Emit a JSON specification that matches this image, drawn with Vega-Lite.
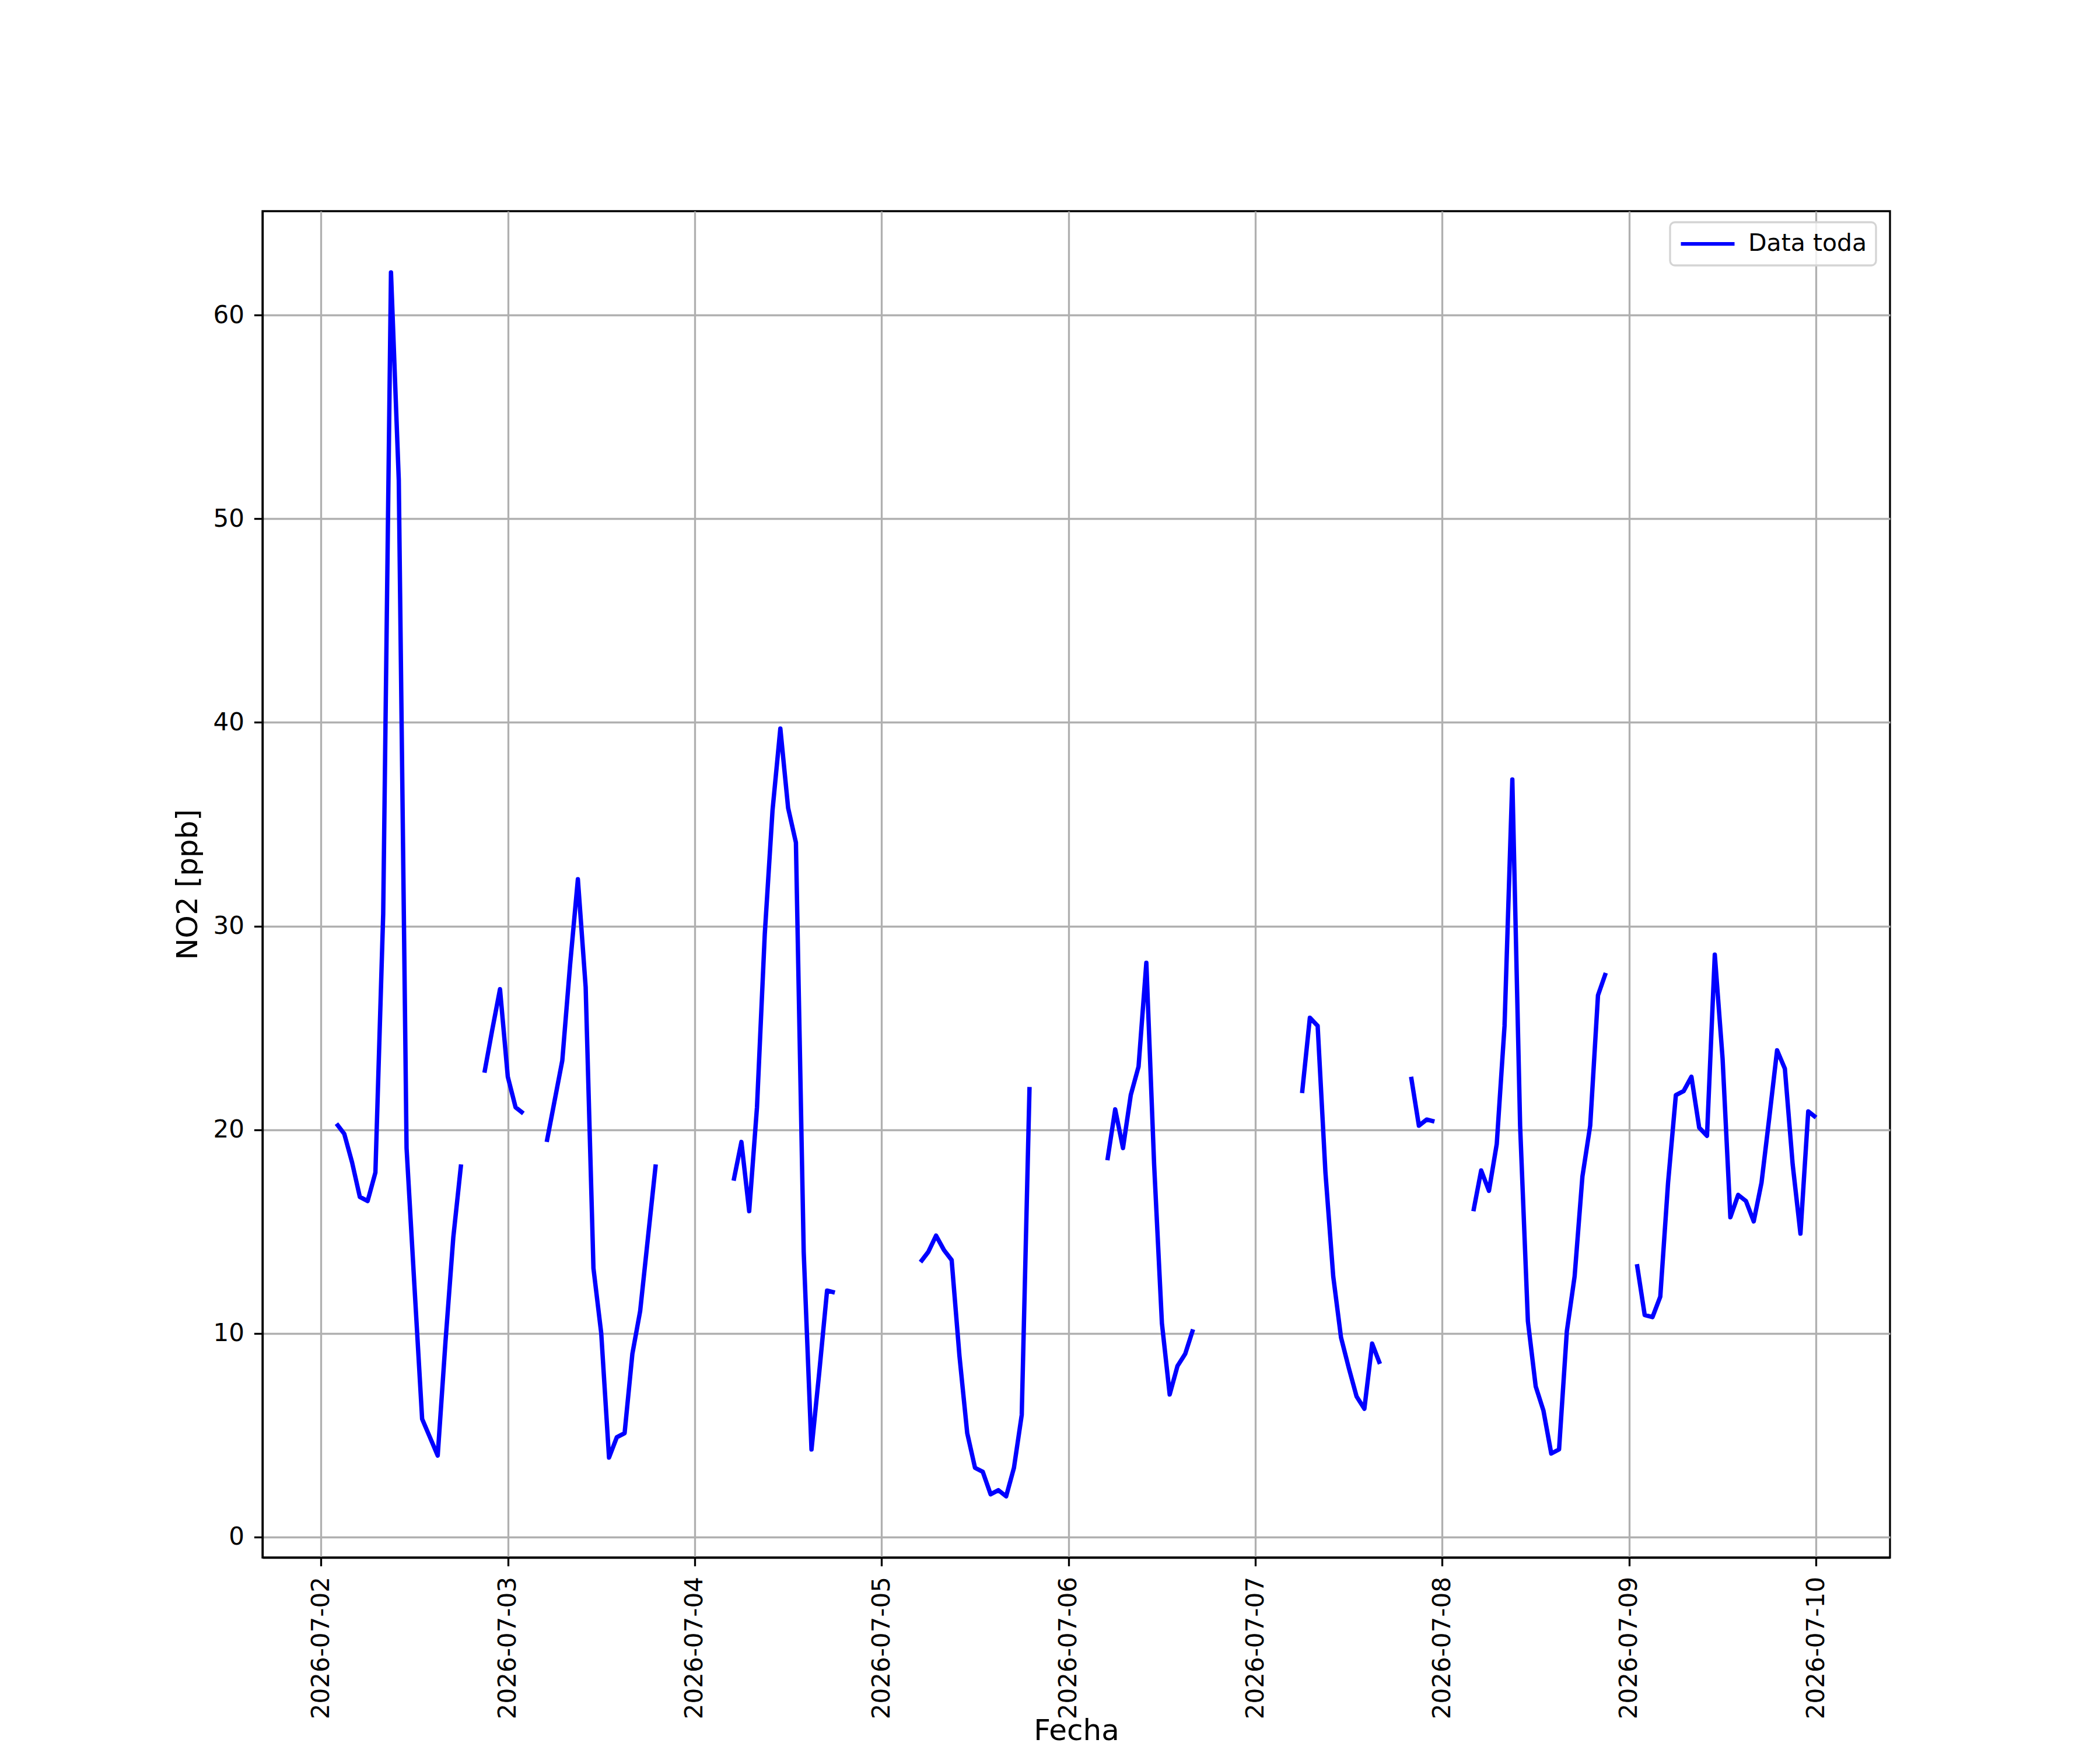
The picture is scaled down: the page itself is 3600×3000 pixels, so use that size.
{
  "$schema": "https://vega.github.io/schema/vega-lite/v6.json",
  "width": 2790,
  "height": 2308,
  "autosize": {"type": "none"},
  "padding": {"left": 450, "top": 362, "right": 360, "bottom": 330},
  "background": "white",
  "view": {"stroke": "black", "strokeWidth": 3.3},
  "config": {
    "font": "DejaVu Sans",
    "axis": {
      "labelFont": "DejaVu Sans",
      "titleFont": "DejaVu Sans",
      "labelColor": "black",
      "titleColor": "black",
      "titleFontWeight": "normal",
      "domainColor": "black",
      "domainWidth": 3.3,
      "tickColor": "black",
      "tickWidth": 3.3,
      "tickSize": 14.6,
      "gridColor": "#b0b0b0",
      "gridWidth": 3.3,
      "labelLimit": 0
    }
  },
  "data": {
    "values": [
      {"t": "2026-07-02T02:00:00", "no2": 20.3},
      {"t": "2026-07-02T03:00:00", "no2": 19.8},
      {"t": "2026-07-02T04:00:00", "no2": 18.4},
      {"t": "2026-07-02T05:00:00", "no2": 16.7},
      {"t": "2026-07-02T06:00:00", "no2": 16.5},
      {"t": "2026-07-02T07:00:00", "no2": 17.9},
      {"t": "2026-07-02T08:00:00", "no2": 30.6},
      {"t": "2026-07-02T09:00:00", "no2": 62.1},
      {"t": "2026-07-02T10:00:00", "no2": 51.9},
      {"t": "2026-07-02T11:00:00", "no2": 19.1},
      {"t": "2026-07-02T12:00:00", "no2": 12.4},
      {"t": "2026-07-02T13:00:00", "no2": 5.8},
      {"t": "2026-07-02T14:00:00", "no2": 4.9},
      {"t": "2026-07-02T15:00:00", "no2": 4.0},
      {"t": "2026-07-02T16:00:00", "no2": 9.6},
      {"t": "2026-07-02T17:00:00", "no2": 14.7},
      {"t": "2026-07-02T18:00:00", "no2": 18.3},
      {"t": "2026-07-02T19:00:00", "no2": null},
      {"t": "2026-07-02T21:00:00", "no2": 22.8},
      {"t": "2026-07-02T22:00:00", "no2": 24.9},
      {"t": "2026-07-02T23:00:00", "no2": 26.9},
      {"t": "2026-07-03T00:00:00", "no2": 22.6},
      {"t": "2026-07-03T01:00:00", "no2": 21.1},
      {"t": "2026-07-03T02:00:00", "no2": 20.8},
      {"t": "2026-07-03T03:00:00", "no2": null},
      {"t": "2026-07-03T05:00:00", "no2": 19.4},
      {"t": "2026-07-03T06:00:00", "no2": 21.4},
      {"t": "2026-07-03T07:00:00", "no2": 23.4},
      {"t": "2026-07-03T08:00:00", "no2": 28.1},
      {"t": "2026-07-03T09:00:00", "no2": 32.3},
      {"t": "2026-07-03T10:00:00", "no2": 27.0},
      {"t": "2026-07-03T11:00:00", "no2": 13.2},
      {"t": "2026-07-03T12:00:00", "no2": 10.0},
      {"t": "2026-07-03T13:00:00", "no2": 3.9},
      {"t": "2026-07-03T14:00:00", "no2": 4.9},
      {"t": "2026-07-03T15:00:00", "no2": 5.1},
      {"t": "2026-07-03T16:00:00", "no2": 9.0},
      {"t": "2026-07-03T17:00:00", "no2": 11.1},
      {"t": "2026-07-03T18:00:00", "no2": 14.7},
      {"t": "2026-07-03T19:00:00", "no2": 18.3},
      {"t": "2026-07-03T20:00:00", "no2": null},
      {"t": "2026-07-04T05:00:00", "no2": 17.5},
      {"t": "2026-07-04T06:00:00", "no2": 19.4},
      {"t": "2026-07-04T07:00:00", "no2": 16.0},
      {"t": "2026-07-04T08:00:00", "no2": 21.1},
      {"t": "2026-07-04T09:00:00", "no2": 29.6},
      {"t": "2026-07-04T10:00:00", "no2": 35.7},
      {"t": "2026-07-04T11:00:00", "no2": 39.7},
      {"t": "2026-07-04T12:00:00", "no2": 35.8},
      {"t": "2026-07-04T13:00:00", "no2": 34.1},
      {"t": "2026-07-04T14:00:00", "no2": 14.0},
      {"t": "2026-07-04T15:00:00", "no2": 4.3},
      {"t": "2026-07-04T16:00:00", "no2": 8.1},
      {"t": "2026-07-04T17:00:00", "no2": 12.1},
      {"t": "2026-07-04T18:00:00", "no2": 12.0},
      {"t": "2026-07-04T19:00:00", "no2": null},
      {"t": "2026-07-05T05:00:00", "no2": 13.5},
      {"t": "2026-07-05T06:00:00", "no2": 14.0},
      {"t": "2026-07-05T07:00:00", "no2": 14.8},
      {"t": "2026-07-05T08:00:00", "no2": 14.1},
      {"t": "2026-07-05T09:00:00", "no2": 13.6},
      {"t": "2026-07-05T10:00:00", "no2": 8.9},
      {"t": "2026-07-05T11:00:00", "no2": 5.1},
      {"t": "2026-07-05T12:00:00", "no2": 3.4},
      {"t": "2026-07-05T13:00:00", "no2": 3.2},
      {"t": "2026-07-05T14:00:00", "no2": 2.1},
      {"t": "2026-07-05T15:00:00", "no2": 2.3},
      {"t": "2026-07-05T16:00:00", "no2": 2.0},
      {"t": "2026-07-05T17:00:00", "no2": 3.4},
      {"t": "2026-07-05T18:00:00", "no2": 6.0},
      {"t": "2026-07-05T19:00:00", "no2": 22.1},
      {"t": "2026-07-05T20:00:00", "no2": null},
      {"t": "2026-07-06T05:00:00", "no2": 18.5},
      {"t": "2026-07-06T06:00:00", "no2": 21.0},
      {"t": "2026-07-06T07:00:00", "no2": 19.1},
      {"t": "2026-07-06T08:00:00", "no2": 21.7},
      {"t": "2026-07-06T09:00:00", "no2": 23.1},
      {"t": "2026-07-06T10:00:00", "no2": 28.2},
      {"t": "2026-07-06T11:00:00", "no2": 18.3},
      {"t": "2026-07-06T12:00:00", "no2": 10.5},
      {"t": "2026-07-06T13:00:00", "no2": 7.0},
      {"t": "2026-07-06T14:00:00", "no2": 8.4},
      {"t": "2026-07-06T15:00:00", "no2": 9.0},
      {"t": "2026-07-06T16:00:00", "no2": 10.2},
      {"t": "2026-07-06T17:00:00", "no2": null},
      {"t": "2026-07-07T06:00:00", "no2": 21.8},
      {"t": "2026-07-07T07:00:00", "no2": 25.5},
      {"t": "2026-07-07T08:00:00", "no2": 25.1},
      {"t": "2026-07-07T09:00:00", "no2": 17.9},
      {"t": "2026-07-07T10:00:00", "no2": 12.8},
      {"t": "2026-07-07T11:00:00", "no2": 9.8},
      {"t": "2026-07-07T12:00:00", "no2": 8.3},
      {"t": "2026-07-07T13:00:00", "no2": 6.9},
      {"t": "2026-07-07T14:00:00", "no2": 6.3},
      {"t": "2026-07-07T15:00:00", "no2": 9.5},
      {"t": "2026-07-07T16:00:00", "no2": 8.5},
      {"t": "2026-07-07T17:00:00", "no2": null},
      {"t": "2026-07-07T20:00:00", "no2": 22.6},
      {"t": "2026-07-07T21:00:00", "no2": 20.2},
      {"t": "2026-07-07T22:00:00", "no2": 20.5},
      {"t": "2026-07-07T23:00:00", "no2": 20.4},
      {"t": "2026-07-08T00:00:00", "no2": null},
      {"t": "2026-07-08T04:00:00", "no2": 16.0},
      {"t": "2026-07-08T05:00:00", "no2": 18.0},
      {"t": "2026-07-08T06:00:00", "no2": 17.0},
      {"t": "2026-07-08T07:00:00", "no2": 19.3},
      {"t": "2026-07-08T08:00:00", "no2": 25.1},
      {"t": "2026-07-08T09:00:00", "no2": 37.2},
      {"t": "2026-07-08T10:00:00", "no2": 20.2},
      {"t": "2026-07-08T11:00:00", "no2": 10.6},
      {"t": "2026-07-08T12:00:00", "no2": 7.4},
      {"t": "2026-07-08T13:00:00", "no2": 6.2},
      {"t": "2026-07-08T14:00:00", "no2": 4.1},
      {"t": "2026-07-08T15:00:00", "no2": 4.3},
      {"t": "2026-07-08T16:00:00", "no2": 10.1},
      {"t": "2026-07-08T17:00:00", "no2": 12.8},
      {"t": "2026-07-08T18:00:00", "no2": 17.7},
      {"t": "2026-07-08T19:00:00", "no2": 20.2},
      {"t": "2026-07-08T20:00:00", "no2": 26.6},
      {"t": "2026-07-08T21:00:00", "no2": 27.7},
      {"t": "2026-07-08T22:00:00", "no2": null},
      {"t": "2026-07-09T01:00:00", "no2": 13.4},
      {"t": "2026-07-09T02:00:00", "no2": 10.9},
      {"t": "2026-07-09T03:00:00", "no2": 10.8},
      {"t": "2026-07-09T04:00:00", "no2": 11.8},
      {"t": "2026-07-09T05:00:00", "no2": 17.4},
      {"t": "2026-07-09T06:00:00", "no2": 21.7},
      {"t": "2026-07-09T07:00:00", "no2": 21.9},
      {"t": "2026-07-09T08:00:00", "no2": 22.6},
      {"t": "2026-07-09T09:00:00", "no2": 20.1},
      {"t": "2026-07-09T10:00:00", "no2": 19.7},
      {"t": "2026-07-09T11:00:00", "no2": 28.6},
      {"t": "2026-07-09T12:00:00", "no2": 23.5},
      {"t": "2026-07-09T13:00:00", "no2": 15.7},
      {"t": "2026-07-09T14:00:00", "no2": 16.8},
      {"t": "2026-07-09T15:00:00", "no2": 16.5},
      {"t": "2026-07-09T16:00:00", "no2": 15.5},
      {"t": "2026-07-09T17:00:00", "no2": 17.4},
      {"t": "2026-07-09T18:00:00", "no2": 20.6},
      {"t": "2026-07-09T19:00:00", "no2": 23.9},
      {"t": "2026-07-09T20:00:00", "no2": 23.0},
      {"t": "2026-07-09T21:00:00", "no2": 18.3},
      {"t": "2026-07-09T22:00:00", "no2": 14.9},
      {"t": "2026-07-09T23:00:00", "no2": 20.9},
      {"t": "2026-07-10T00:00:00", "no2": 20.6}
    ]
  },
  "mark": {
    "type": "line",
    "strokeWidth": 7.5,
    "strokeJoin": "round",
    "strokeCap": "butt",
    "invalid": "break-paths-show-domains",
    "clip": true
  },
  "encoding": {
    "x": {
      "field": "t",
      "type": "temporal",
      "scale": {
        "domain": [
          {"year": 2026, "month": 7, "date": 1, "hours": 16, "minutes": 30},
          {"year": 2026, "month": 7, "date": 10, "hours": 9, "minutes": 30}
        ]
      },
      "axis": {
        "title": "Fecha",
        "titleFontSize": 50,
        "titleY": 312,
        "titleBaseline": "alphabetic",
        "labelFontSize": 42,
        "labelAngle": 270,
        "labelAlign": "right",
        "labelBaseline": "middle",
        "labelPadding": 18,
        "format": "%Y-%m-%d",
        "tickCount": {"interval": "day", "step": 1},
        "labelOverlap": false,
        "labelFlush": false
      }
    },
    "y": {
      "field": "no2",
      "type": "quantitative",
      "scale": {"domain": [-1.005, 65.105], "nice": false, "zero": false},
      "axis": {
        "title": "NO2 [ppb]",
        "titleFontSize": 50,
        "titleAngle": 270,
        "titleX": -128,
        "titleY": 1154,
        "titleAlign": "center",
        "titleBaseline": "middle",
        "labelFontSize": 42,
        "labelPadding": 17,
        "values": [0, 10, 20, 30, 40, 50, 60]
      }
    },
    "color": {
      "datum": "Data toda",
      "type": "nominal",
      "scale": {"range": ["#0000ff"]},
      "legend": {
        "title": null,
        "orient": "none",
        "legendX": 2413,
        "legendY": 19,
        "symbolType": "stroke",
        "symbolStrokeWidth": 6.25,
        "symbolSize": 8464,
        "clipHeight": 44,
        "labelFont": "DejaVu Sans",
        "labelFontSize": 41,
        "labelColor": "black",
        "labelLimit": 0,
        "labelOffset": 20,
        "padding": 15,
        "strokeColor": "#d4d4d4",
        "fillColor": "rgba(255,255,255,0.8)",
        "cornerRadius": 8,
        "encode": {"legend": {"update": {"strokeWidth": {"value": 3.3}}}}
      }
    }
  }
}
